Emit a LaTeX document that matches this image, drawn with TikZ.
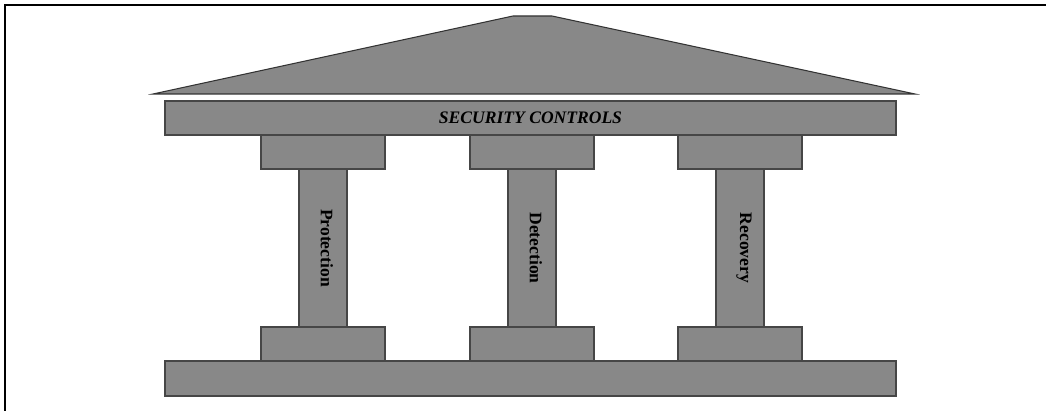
\documentclass[tikz,border=0pt]{standalone}
\usepackage{fontspec}
\setmainfont{Liberation Serif}
\definecolor{stone}{RGB}{136,136,136}
\definecolor{edge}{RGB}{70,70,70}
\begin{document}
\begin{tikzpicture}[x=0.02cm, y=-0.02cm,
    block/.style={fill=stone, draw=edge, line width=0.6pt},
    pillarlabel/.style={font=\bfseries\fontsize{10}{12}\selectfont, rotate=-90, inner sep=0pt}]
  \useasboundingbox (0,0) rectangle (1046,411);

  % Frame (left and top edges only)
  \draw[line width=1.2pt] (5,411) -- (5,5) -- (1046,5);

  % Roof
  \draw[block, draw=black!80] (153,94) -- (513,16) -- (552,16) -- (915,94) -- cycle;

  % Beam
  \draw[block] (165,101) rectangle (896,135);
  \node[font=\bfseries\itshape\fontsize{10}{12}\selectfont] (beam) at (530.5,118) {SECURITY CONTROLS};

  % Columns: capital, shaft, base
  \foreach \x/\name/\lbl in {261/prot/Protection, 470/det/Detection, 678/rec/Recovery} {
    \draw[block] (\x,135) rectangle ++(124,34);
    \draw[block] (\x+38,169) rectangle ++(48,158);
    \draw[block] (\x,327) rectangle ++(124,34);
    \node[pillarlabel] (\name) at (\x+66,248) {\lbl};
  }

  % Plinth
  \draw[block] (165,361) rectangle (896,396);
\end{tikzpicture}
\end{document}
